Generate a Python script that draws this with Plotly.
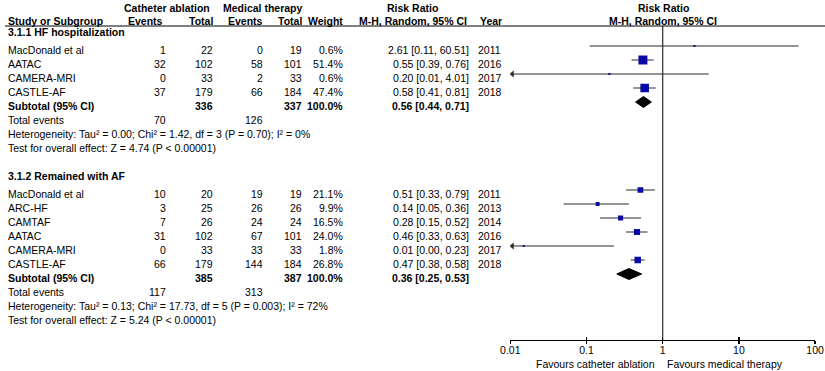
import plotly.graph_objects as go

# ---------------- data ----------------
g1_title = "3.1.1 HF hospitalization"
g1_study = ["MacDonald et al", "AATAC", "CAMERA-MRI", "CASTLE-AF"]
g1_ev_ca = [1, 32, 0, 37]
g1_tot_ca = [22, 102, 33, 179]
g1_ev_mt = [0, 58, 2, 66]
g1_tot_mt = [19, 101, 33, 184]
g1_weight = [0.6, 51.4, 0.6, 47.4]
g1_rr = [2.61, 0.55, 0.20, 0.58]
g1_lo = [0.11, 0.39, 0.0099, 0.41]
g1_hi = [60.51, 0.76, 4.01, 0.81]
g1_year = [2011, 2016, 2017, 2018]
g1_sub = {"tot_ca": 336, "tot_mt": 337, "rr": 0.56, "lo": 0.44, "hi": 0.71}
g1_events = [70, 126]
g1_het = "Heterogeneity: Tau² = 0.00; Chi² = 1.42, df = 3 (P = 0.70); I² = 0%"
g1_test = "Test for overall effect: Z = 4.74 (P < 0.00001)"

g2_title = "3.1.2 Remained with AF"
g2_study = ["MacDonald et al", "ARC-HF", "CAMTAF", "AATAC", "CAMERA-MRI", "CASTLE-AF"]
g2_ev_ca = [10, 3, 7, 31, 0, 66]
g2_tot_ca = [20, 25, 26, 102, 33, 179]
g2_ev_mt = [19, 26, 24, 67, 33, 144]
g2_tot_mt = [19, 26, 24, 101, 33, 184]
g2_weight = [21.1, 9.9, 16.5, 24.0, 1.8, 26.8]
g2_rr = [0.51, 0.14, 0.28, 0.46, 0.015, 0.47]
g2_lo = [0.33, 0.05, 0.15, 0.33, 0.001, 0.38]
g2_hi = [0.79, 0.36, 0.52, 0.63, 0.23, 0.58]
g2_year = [2011, 2013, 2014, 2016, 2017, 2018]
g2_sub = {"tot_ca": 385, "tot_mt": 387, "rr": 0.36, "lo": 0.25, "hi": 0.53}
g2_events = [117, 313]
g2_het = "Heterogeneity: Tau² = 0.13; Chi² = 17.73, df = 5 (P = 0.003); I² = 72%"
g2_test = "Test for overall effect: Z = 5.24 (P < 0.00001)"

tick_vals = [0.01, 0.1, 1, 10, 100]
tick_text = ["0.01", "0.1", "1", "10", "100"]

# ---------------- layout helpers ----------------
W, H = 825, 371
FONT = "Liberation Sans, Arial, sans-serif"
FS = 10.5
X_MIN, X_MAX = 0.01, 100
AX_Y = 340  # pixel row of the forest axis
BLUE = "#0A0AA5"
LINE = "#2b2b2b"

col_label = 8
col_ev_ca = 166
col_tot_ca = 213
col_ev_mt = 263
col_tot_mt = 302
col_weight = 343
col_rr = 469
col_year = 478

fig = go.Figure()
annotations = []


def txt(x, y, s, anchor="left", bold=False):
    annotations.append(dict(
        x=x / W, y=y, xref="paper", yref="y", text=f"<b>{s}</b>" if bold else s,
        showarrow=False, xanchor=anchor, yanchor="middle",
        font=dict(family=FONT, size=FS, color="black"),
        borderpad=0, borderwidth=0))


def fmt_ci(rr, lo, hi):
    return f"{rr:.2f} [{lo:.2f}, {hi:.2f}]"


# header
txt(167, 7.5, "Catheter ablation", "center", True)
txt(263, 7.5, "Medical therapy", "center", True)
txt(412, 7.5, "Risk Ratio", "center", True)
txt(663, 7.5, "Risk Ratio", "center", True)
txt(col_label, 20.5, "Study or Subgroup", "left", True)
txt(163, 20.5, "Events", "right", True)
txt(col_tot_ca, 20.5, "Total", "right", True)
txt(col_ev_mt, 20.5, "Events", "right", True)
txt(col_tot_mt, 20.5, "Total", "right", True)
txt(col_weight, 20.5, "Weight", "right", True)
txt(413, 20.5, "M-H, Random, 95% CI", "center", True)
txt(480, 20.5, "Year", "left", True)
txt(663, 20.5, "M-H, Random, 95% CI", "center", True)

MK_OFF = -4  # markers sit slightly above text centre


def add_group(y0, title, study, ev_ca, tot_ca, ev_mt, tot_mt, weight, rr, lo, hi, year,
              sub, events, het, test, step=14):
    txt(col_label, y0, title, "left", True)
    ys = [y0 + 18.5 + step * i for i in range(len(study))]
    for i, y in enumerate(ys):
        txt(col_label, y, study[i])
        txt(col_ev_ca, y, str(ev_ca[i]), "right")
        txt(col_tot_ca, y, str(tot_ca[i]), "right")
        txt(col_ev_mt, y, str(ev_mt[i]), "right")
        txt(col_tot_mt, y, str(tot_mt[i]), "right")
        txt(col_weight, y, f"{weight[i]:.1f}%", "right")
        txt(col_rr, y, fmt_ci(rr[i], lo[i], hi[i]), "right")
        txt(col_year, y, str(year[i]), "left")
        ym = y + MK_OFF
        l = max(lo[i], X_MIN)
        h = min(hi[i], X_MAX)
        fig.add_trace(go.Scatter(x=[l, h], y=[ym, ym], mode="lines",
                                 line=dict(color=LINE, width=1.2), hoverinfo="skip"))
        if lo[i] < X_MIN:
            fig.add_trace(go.Scatter(x=[X_MIN * 1.06], y=[ym], mode="markers",
                                     marker=dict(symbol="triangle-left", size=6, color=LINE),
                                     hoverinfo="skip"))
        size = max(2.2, 1.25 * weight[i] ** 0.5)
        fig.add_trace(go.Scatter(x=[rr[i]], y=[ym], mode="markers",
                                 marker=dict(symbol="square", size=size, color=BLUE,
                                             line=dict(width=0)),
                                 hoverinfo="skip"))
    ysub = ys[-1] + 13.5
    txt(col_label, ysub, "Subtotal (95% CI)", "left", True)
    txt(col_tot_ca, ysub, str(sub["tot_ca"]), "right", True)
    txt(col_tot_mt, ysub, str(sub["tot_mt"]), "right", True)
    txt(col_weight, ysub, "100.0%", "right", True)
    txt(col_rr, ysub, fmt_ci(sub["rr"], sub["lo"], sub["hi"]), "right", True)
    yd = ysub + MK_OFF + 0.5
    hh = 5.5
    fig.add_trace(go.Scatter(x=[sub["lo"], sub["rr"], sub["hi"], sub["rr"], sub["lo"]],
                             y=[yd, yd - hh, yd, yd + hh, yd], mode="lines",
                             fill="toself", fillcolor="black",
                             line=dict(color="black", width=1), hoverinfo="skip"))
    ytot = ysub + 14.5
    txt(col_label, ytot, "Total events")
    txt(col_ev_ca, ytot, str(events[0]), "right")
    txt(col_ev_mt, ytot, str(events[1]), "right")
    txt(col_label, ytot + 14, het)
    txt(col_label, ytot + 28, test)


add_group(31.5, g1_title, g1_study, g1_ev_ca, g1_tot_ca, g1_ev_mt, g1_tot_mt, g1_weight,
          g1_rr, g1_lo, g1_hi, g1_year, g1_sub, g1_events, g1_het, g1_test)
add_group(175.5, g2_title, g2_study, g2_ev_ca, g2_tot_ca, g2_ev_mt, g2_tot_mt, g2_weight,
          g2_rr, g2_lo, g2_hi, g2_year, g2_sub, g2_events, g2_het, g2_test)

# line of no effect
fig.add_trace(go.Scatter(x=[1, 1], y=[26, AX_Y], mode="lines",
                         line=dict(color=LINE, width=1.2), hoverinfo="skip"))
# invisible trace for the overlay tick axis
fig.add_trace(go.Scatter(x=[1], y=[AX_Y], xaxis="x2", mode="markers",
                         marker=dict(opacity=0), hoverinfo="skip"))

# favours labels
txt(655, 364, "Favours catheter ablation", "right")
txt(667, 364, "Favours medical therapy", "left")

shapes = [dict(type="line", xref="paper", yref="y", x0=5 / W, x1=1, y0=26, y1=26,
               line=dict(color="black", width=1.2))]

dom = [(510.3) / W, (815.1) / W]
pos = 1 - AX_Y / H
fig.update_layout(
    width=W, height=H, margin=dict(l=0, r=0, t=0, b=0, autoexpand=False),
    paper_bgcolor="white", plot_bgcolor="white", showlegend=False,
    annotations=annotations, shapes=shapes,
    # main axis: line, upward ticks and the labels
    xaxis=dict(type="log", range=[-2, 2], domain=dom, anchor="free", position=pos,
               showline=True, linecolor="black", linewidth=1.2, ticks="inside",
               ticklen=3, tickwidth=1.2, tickcolor="black",
               tickvals=tick_vals, ticktext=tick_text, showgrid=False, zeroline=False,
               automargin=False,
               tickfont=dict(family=FONT, size=FS, color="black")),
    # overlay axis: downward tick stubs only
    xaxis2=dict(type="log", range=[-2, 2], domain=dom, anchor="free", position=pos,
                overlaying="x", ticks="outside", ticklen=3, tickwidth=1.2,
                tickcolor="black", tickvals=tick_vals, showticklabels=False,
                showline=False, showgrid=False, zeroline=False),
    yaxis=dict(range=[H, 0], domain=[0, 1], visible=False, showgrid=False),
)

fig.write_html("out.html", config={"displayModeBar": False, "staticPlot": True},
               post_script="document.body.style.margin='0';document.body.style.overflow='hidden';")
